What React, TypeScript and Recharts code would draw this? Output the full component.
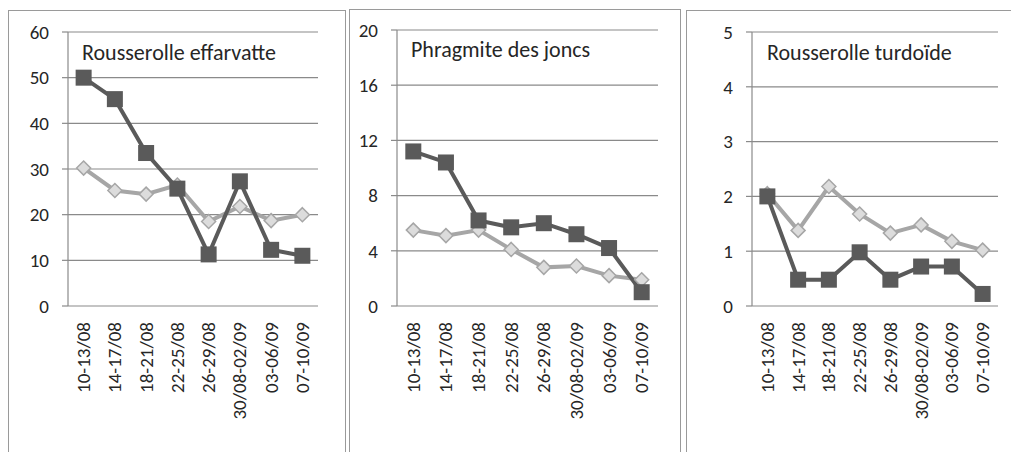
import React from "react";
import { LineChart, Line, XAxis, YAxis, CartesianGrid } from "recharts";

// periods (same for all three panels)
const periods = ["10-13/08", "14-17/08", "18-21/08", "22-25/08", "26-29/08", "30/08-02/09", "03-06/09", "07-10/09"];

// Rousserolle effarvatte
const effarvatteDark = [50, 45.3, 33.5, 25.7, 11.3, 27.3, 12.3, 11];
const effarvatteLight = [30.2, 25.3, 24.5, 26.5, 18.5, 21.8, 18.7, 20];
const effarvatteTicks = [0, 10, 20, 30, 40, 50, 60];

// Phragmite des joncs
const phragmiteDark = [11.2, 10.4, 6.2, 5.7, 6.0, 5.2, 4.2, 1.0];
const phragmiteLight = [5.5, 5.1, 5.5, 4.1, 2.8, 2.9, 2.2, 1.9];
const phragmiteTicks = [0, 4, 8, 12, 16, 20];

// Rousserolle turdoïde
const turdoideDark = [2, 0.48, 0.48, 0.98, 0.48, 0.72, 0.72, 0.22];
const turdoideLight = [2.05, 1.38, 2.18, 1.68, 1.33, 1.48, 1.18, 1.02];
const turdoideTicks = [0, 1, 2, 3, 4, 5];

const FONT = "Carlito, Calibri, Lato, sans-serif";
const GRID = "#8a8a8a";
const DARK = "#5a5a5a";
const LIGHT = "#a6a6a6";
const TEXT = "#262626";

const boundaries = [0, 1, 2, 3, 4, 5, 6, 7, 8];
const centers = periods.map((_, i) => i + 0.5);

function buildRows(dark: number[], light: number[]) {
  return periods.map((p, i) => ({ x: i + 0.5, period: p, dark: dark[i], light: light[i] }));
}

const SquareDot = (props: any) => {
  const { cx, cy } = props;
  if (cx == null || cy == null) return null;
  return <rect x={cx - 8} y={cy - 8} width={16} height={16} fill={DARK} />;
};

const DiamondDot = (props: any) => {
  const { cx, cy } = props;
  if (cx == null || cy == null) return null;
  const r = 7;
  return (
    <polygon
      points={`${cx},${cy - r} ${cx + r},${cy} ${cx},${cy + r} ${cx - r},${cy}`}
      fill="#dcdcdc"
      stroke={LIGHT}
      strokeWidth={1.5}
    />
  );
};

const PeriodTick = (props: any) => {
  const { x, y, payload } = props;
  const idx = Math.round(payload.value - 0.5);
  const ty = y + 16;
  return (
    <text
      x={x}
      y={ty}
      transform={`rotate(-90 ${x} ${ty})`}
      textAnchor="end"
      dominantBaseline="central"
      fill={TEXT}
      fontSize={19}
      fontFamily={FONT}
    >
      {periods[idx]}
    </text>
  );
};

interface PanelProps {
  title: string;
  dark: number[];
  light: number[];
  ticks: number[];
  left: number;
  width: number;
  top: number;
  titleLeft: number;
  titleTop: number;
}

function Panel({ title, dark, light, ticks, left, width, top, titleLeft, titleTop }: PanelProps) {
  const rows = buildRows(dark, light);
  const max = ticks[ticks.length - 1];
  return (
    <>
      <div style={{ position: "absolute", left, top: 0 }}>
        <LineChart width={width} height={452} data={rows} margin={{ top, right: 10, bottom: 0, left: 0 }}>
          <CartesianGrid vertical={false} stroke={GRID} strokeWidth={1.2} xAxisId="b" />
          <XAxis
            xAxisId="b"
            type="number"
            dataKey="x"
            domain={[0, 8]}
            ticks={boundaries}
            tick={false}
            tickSize={6}
            height={0}
            stroke={GRID}
            strokeWidth={1.2}
          />
          <XAxis
            xAxisId="l"
            type="number"
            dataKey="x"
            domain={[0, 8]}
            ticks={centers}
            tick={<PeriodTick />}
            axisLine={false}
            tickLine={false}
            tickSize={0}
            tickMargin={0}
            height={146}
            interval={0}
          />
          <YAxis
            type="number"
            domain={[0, max]}
            ticks={ticks}
            width={60}
            tickSize={6}
            tickMargin={13}
            stroke={GRID}
            strokeWidth={1.2}
            tick={{ fill: TEXT, fontSize: 19, fontFamily: FONT }}
            interval={0}
          />
          <Line
            xAxisId="b"
            dataKey="light"
            stroke={LIGHT}
            strokeWidth={4}
            dot={<DiamondDot />}
            activeDot={false}
            isAnimationActive={false}
          />
          <Line
            xAxisId="b"
            dataKey="dark"
            stroke={DARK}
            strokeWidth={4}
            dot={<SquareDot />}
            activeDot={false}
            isAnimationActive={false}
          />
        </LineChart>
      </div>
      <div
        style={{
          position: "absolute",
          left: titleLeft,
          top: titleTop,
          fontFamily: FONT,
          fontSize: 22,
          color: TEXT,
          lineHeight: "24px",
          whiteSpace: "nowrap",
        }}
      >
        {title}
      </div>
    </>
  );
}

const borderStyle = "1px solid #9a9a9a";

export default function App() {
  return (
    <div style={{ position: "absolute", left: 0, top: 0, width: 1011, height: 452, background: "#fff", overflow: "hidden" }}>
      <div style={{ position: "absolute", left: 8, top: 10, width: 336, height: 460, borderLeft: borderStyle, borderTop: borderStyle, borderRight: borderStyle }} />
      <div style={{ position: "absolute", left: 349, top: 9, width: 330, height: 460, borderLeft: borderStyle, borderTop: borderStyle, borderRight: borderStyle }} />
      <div style={{ position: "absolute", left: 686, top: 10, width: 340, height: 460, borderLeft: borderStyle, borderTop: borderStyle }} />
      <Panel title="Rousserolle effarvatte" dark={effarvatteDark} light={effarvatteLight} ticks={effarvatteTicks} left={8} width={320} top={32} titleLeft={82} titleTop={41} />
      <Panel title="Phragmite des joncs" dark={phragmiteDark} light={phragmiteLight} ticks={phragmiteTicks} left={337} width={331} top={30} titleLeft={411} titleTop={38} />
      <Panel title="Rousserolle turdoïde" dark={turdoideDark} light={turdoideLight} ticks={turdoideTicks} left={692} width={316} top={32} titleLeft={767} titleTop={41} />
    </div>
  );
}
